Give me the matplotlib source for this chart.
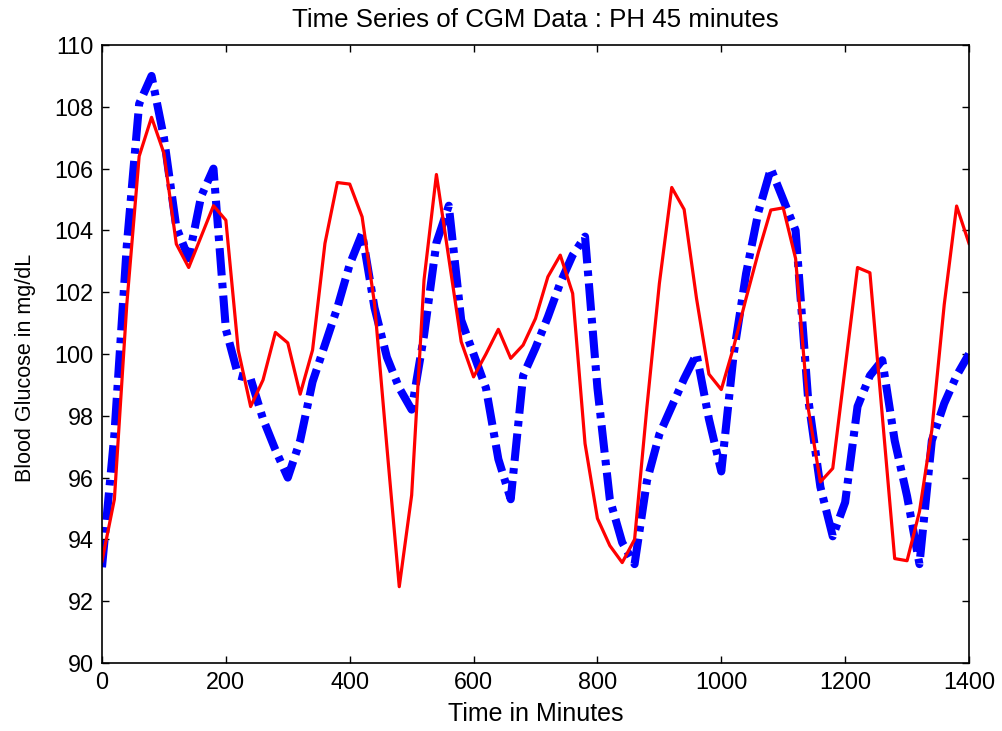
import numpy as np
import matplotlib
matplotlib.use("Agg")
import matplotlib.pyplot as plt

plt.rcParams['font.family'] = ['Liberation Sans', 'DejaVu Sans']

time_min = list(range(0, 1401, 20))

actual_glucose = [
    93.1, 97.4, 103.5, 108.1, 109.0, 107.0, 104.1, 103.1, 105.1, 106.0,
    100.8, 99.3, 99.2, 97.9, 96.9, 96.0, 97.2, 99.1, 100.3, 101.5,
    102.9, 103.9, 101.5, 99.9, 98.9, 98.2, 100.6, 103.6, 104.8, 101.1,
    100.0, 98.9, 96.6, 95.3, 99.3, 100.2, 101.2, 102.3, 103.2, 103.8,
    98.9, 95.3, 93.9, 93.2, 95.9, 97.4, 98.3, 99.2, 100.0, 97.9,
    96.2, 100.0, 102.6, 104.6, 106.0, 105.0, 104.0, 98.6, 95.7, 94.1,
    95.2, 98.3, 99.3, 99.8, 97.2, 95.4, 93.2, 97.2, 98.4, 99.3,
    100.0,
]

predicted_glucose = [
    93.3, 95.3, 101.6, 106.4, 107.66, 106.5, 103.56, 102.8, 103.8, 104.8,
    104.33, 100.13, 98.3, 99.16, 100.7, 100.36, 98.7, 100.13, 103.58, 105.55,
    105.5, 104.44, 101.64, 97.0, 92.47, 95.43, 102.4, 105.81, 103.1, 100.4,
    99.26, 100.0, 100.8, 99.86, 100.29, 101.15, 102.5, 103.2, 101.96, 97.1,
    94.68, 93.8, 93.25, 94.0, 98.3, 102.28, 105.39, 104.68, 101.8, 99.35,
    98.85, 100.23, 101.8, 103.3, 104.66, 104.73, 103.09, 98.29, 95.86, 96.3,
    99.55, 102.8, 102.63, 98.0, 93.38, 93.31, 94.9, 97.54, 101.6, 104.79,
    103.58,
]

x_ticks = [0, 200, 400, 600, 800, 1000, 1200, 1400]
y_ticks = [90, 92, 94, 96, 98, 100, 102, 104, 106, 108, 110]

fig = plt.figure(figsize=(10.03, 7.31), dpi=100)
ax = fig.add_axes([0.1017, 0.0930, 0.8644, 0.8454])

ax.plot(time_min, actual_glucose, color=(0, 0, 1), linewidth=5.8,
        linestyle=(0, (3.4, 0.9, 0.7, 0.9)), dash_capstyle='butt',
        solid_joinstyle='round')
ax.plot(time_min, predicted_glucose, color=(1, 0, 0), linewidth=2.3)

ax.set_xlim(0, 1400)
ax.set_ylim(90, 110)
ax.set_xticks(x_ticks)
ax.set_yticks(y_ticks)
ax.tick_params(direction='in', top=True, right=True, length=5, width=1,
               labelsize=16.8, pad=6, colors='black')
for s in ax.spines.values():
    s.set_linewidth(1.2)
    s.set_color('black')

ax.set_title('Time Series of CGM Data : PH 45 minutes', fontsize=18.6, pad=13)
ax.set_xlabel('Time in Minutes', fontsize=18, va='top')
ax.xaxis.set_label_coords(0.5, -0.063)
ax.set_ylabel('Blood Glucose in mg/dL', fontsize=15.5)
ax.yaxis.set_label_coords(-0.0761, 0.478)

fig.savefig('out.png', dpi=100, facecolor='white')
